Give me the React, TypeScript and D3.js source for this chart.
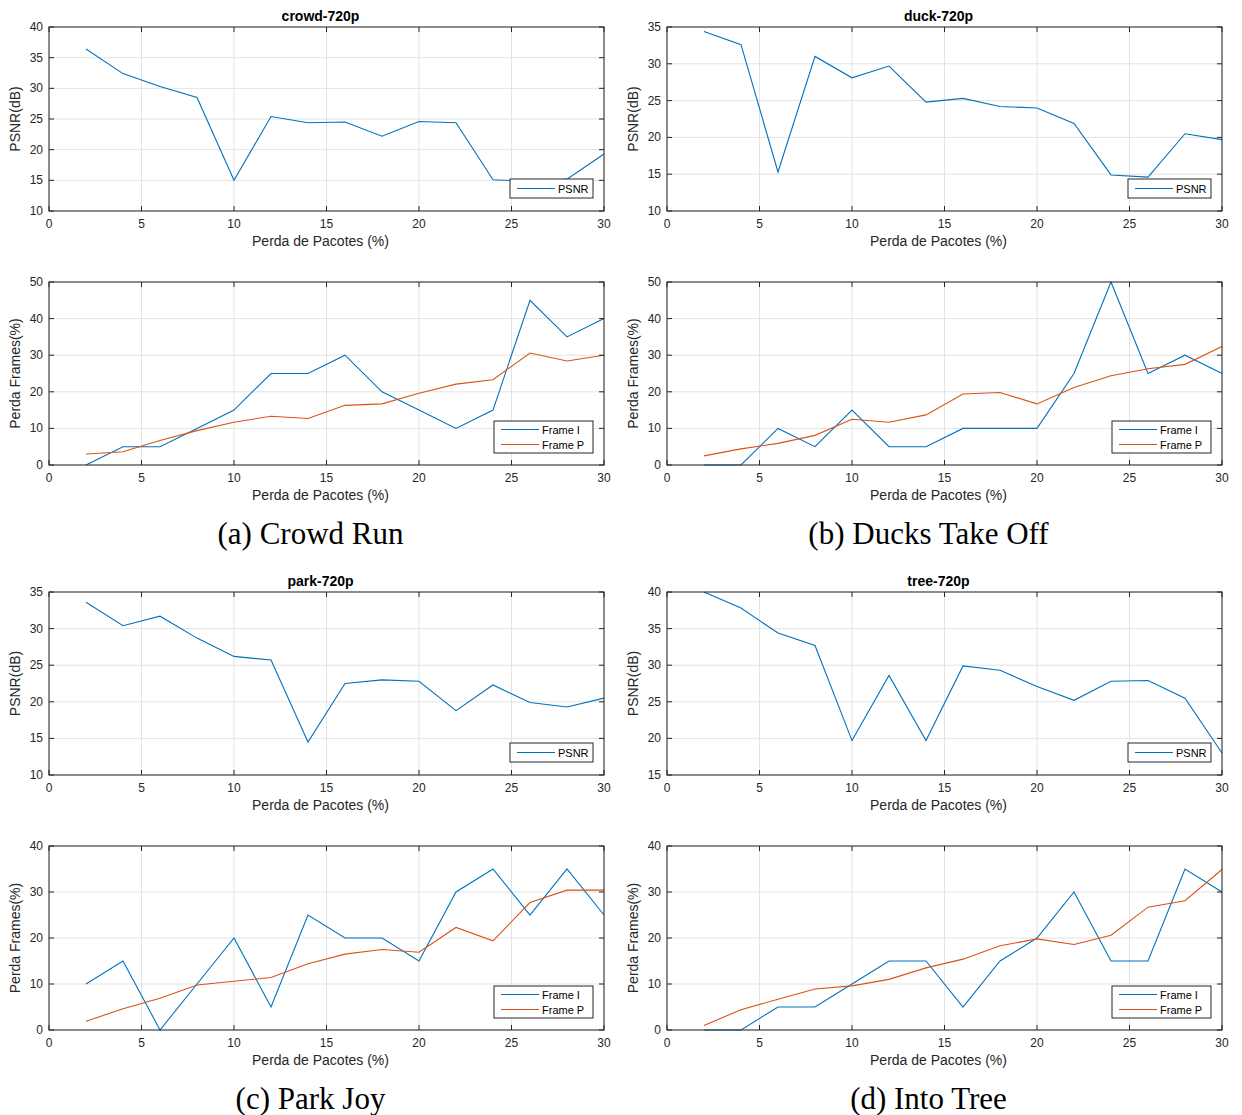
import React from "react";
import * as d3 from "d3";

// x axis: packet loss (%)
const lossPct = [2, 4, 6, 8, 10, 12, 14, 16, 18, 20, 22, 24, 26, 28, 30];
const xTicks = [0, 5, 10, 15, 20, 25, 30];

// PSNR (dB) per sequence
const crowdPsnr = [36.4, 32.4, 30.3, 28.5, 15.0, 25.4, 24.4, 24.5, 22.2, 24.6, 24.4, 15.1, 14.8, 15.2, 19.3];
const duckPsnr = [34.4, 32.6, 15.3, 31.0, 28.1, 29.7, 24.8, 25.3, 24.2, 24.0, 21.9, 14.9, 14.6, 20.5, 19.7];
const parkPsnr = [33.6, 30.4, 31.7, 28.7, 26.2, 25.7, 14.5, 22.5, 23.0, 22.8, 18.8, 22.3, 19.9, 19.3, 20.5];
const treePsnr = [40.0, 37.8, 34.4, 32.7, 19.7, 28.6, 19.7, 29.9, 29.3, 27.1, 25.2, 27.8, 27.9, 25.5, 18.0];

// frame loss (%) — I frames and P frames
const crowdFrameI = [0, 5, 5, 10, 15, 25, 25, 30, 20, 15, 10, 15, 45, 35, 40];
const crowdFrameP = [3.0, 3.6, 6.7, 9.4, 11.7, 13.3, 12.7, 16.3, 16.7, 19.6, 22.1, 23.3, 30.6, 28.4, 30.0];
const duckFrameI = [0, 0, 10, 5, 15, 5, 5, 10, 10, 10, 25, 50, 25, 30, 25];
const duckFrameP = [2.5, 4.4, 5.9, 8.1, 12.5, 11.7, 13.7, 19.4, 19.8, 16.7, 21.2, 24.4, 26.3, 27.5, 32.4];
const parkFrameI = [10, 15, 0, 10, 20, 5, 25, 20, 20, 15, 30, 35, 25, 35, 25];
const parkFrameP = [1.9, 4.6, 6.9, 9.8, 10.6, 11.4, 14.4, 16.5, 17.5, 16.9, 22.3, 19.4, 27.7, 30.4, 30.4];
const treeFrameI = [0, 0, 5, 5, 10, 15, 15, 5, 15, 20, 30, 15, 15, 35, 30];
const treeFrameP = [1.0, 4.4, 6.7, 8.9, 9.6, 11.0, 13.5, 15.4, 18.3, 19.8, 18.6, 20.6, 26.7, 28.1, 34.9];

const titles = ["crowd-720p", "duck-720p", "park-720p", "tree-720p"];
const captions = ["(a) Crowd Run", "(b) Ducks Take Off", "(c) Park Joy", "(d) Into Tree"];
const psnrDomains = [[10, 40], [10, 35], [10, 35], [15, 40]];
const frameDomains = [[0, 50], [0, 50], [0, 40], [0, 40]];

const BLUE = "#0072BD";
const ORANGE = "#D95319";
const AXIS = "#262626";
const FONT = "'Liberation Sans', Arial, sans-serif";

const cols = [{ left: 49, right: 604 }, { left: 667, right: 1222 }];
const rows = [{ top: 27, bottom: 211 }, { top: 282, bottom: 465 }, { top: 592, bottom: 775 }, { top: 846, bottom: 1030 }];

type Series = { name: string; values: number[]; color: string };

const Plot = ({ left, right, top, bottom, domain, series, title, ylabel }: any) => {
  const x = d3.scaleLinear().domain([0, 30]).range([left, right]);
  const y = d3.scaleLinear().domain(domain).range([bottom, top]);
  const yTicks = d3.range(domain[0], domain[1] + 0.01, domain[1] - domain[0] > 30 ? 10 : 5);
  const line = d3.line<number>().x((_, i) => x(lossPct[i])).y(d => y(d));
  const tl = 5;
  const cx = (left + right) / 2 - 6;
  const two = series.length > 1;
  const legW = two ? 99 : 83;
  const legH = two ? 32 : 19;
  const legX = right - 11 - legW;
  const legY = bottom - (two ? 12 : 13) - legH;
  return (
    <g fontFamily={FONT}>
      <rect x={left} y={top} width={right - left} height={bottom - top} fill="#fff" />
      {xTicks.map(t => (
        <line key={"gx" + t} x1={x(t)} x2={x(t)} y1={top} y2={bottom} stroke="#e3e3e3" strokeWidth={1} />
      ))}
      {yTicks.map(t => (
        <line key={"gy" + t} x1={left} x2={right} y1={y(t)} y2={y(t)} stroke="#e3e3e3" strokeWidth={1} />
      ))}
      {series.map((s: Series) => (
        <path key={s.name} d={line(s.values) || ""} fill="none" stroke={s.color} strokeWidth={1.1} />
      ))}
      <rect x={left} y={top} width={right - left} height={bottom - top} fill="none" stroke={AXIS} strokeWidth={1} />
      {xTicks.map(t => (
        <g key={"tx" + t}>
          <line x1={x(t)} x2={x(t)} y1={bottom} y2={bottom - tl} stroke={AXIS} />
          <line x1={x(t)} x2={x(t)} y1={top} y2={top + tl} stroke={AXIS} />
          <text x={x(t)} y={bottom + 17} textAnchor="middle" fontSize={12} fill={AXIS}>{t}</text>
        </g>
      ))}
      {yTicks.map(t => (
        <g key={"ty" + t}>
          <line x1={left} x2={left + tl} y1={y(t)} y2={y(t)} stroke={AXIS} />
          <line x1={right} x2={right - tl} y1={y(t)} y2={y(t)} stroke={AXIS} />
          <text x={left - 6} y={y(t) + 4} textAnchor="end" fontSize={12} fill={AXIS}>{t}</text>
        </g>
      ))}
      {title && (
        <text x={cx} y={top - 6} textAnchor="middle" fontSize={14} fontWeight="bold" fill="#000">{title}</text>
      )}
      <text x={cx} y={bottom + 35} textAnchor="middle" fontSize={14} fill={AXIS}>Perda de Pacotes (%)</text>
      <text transform={`translate(${left - 29},${(top + bottom) / 2}) rotate(-90)`} textAnchor="middle" fontSize={14} fill={AXIS}>{ylabel}</text>
      <rect x={legX} y={legY} width={legW} height={legH} fill="#fff" stroke={AXIS} strokeWidth={1} />
      {series.map((s: Series, i: number) => {
        const ly = legY + (two ? 8.5 : 9.5) + i * 15;
        return (
          <g key={"lg" + s.name}>
            <line x1={legX + 7} x2={legX + (two ? 45 : 45)} y1={ly} y2={ly} stroke={s.color} strokeWidth={1.1} />
            <text x={legX + (two ? 48 : 48)} y={ly + 4} fontSize={11} fill="#000">{s.name}</text>
          </g>
        );
      })}
    </g>
  );
};

export default function App() {
  const psnr = [crowdPsnr, duckPsnr, parkPsnr, treePsnr];
  const frameI = [crowdFrameI, duckFrameI, parkFrameI, treeFrameI];
  const frameP = [crowdFrameP, duckFrameP, parkFrameP, treeFrameP];
  return (
    <svg width={1242} height={1115} style={{ position: "absolute", left: 0, top: 0, background: "#fff" }}>
      <rect width={1242} height={1115} fill="#fff" />
      {titles.map((title, k) => {
        const col = cols[k % 2];
        const r0 = rows[Math.floor(k / 2) * 2];
        const r1 = rows[Math.floor(k / 2) * 2 + 1];
        return (
          <g key={title}>
            <Plot left={col.left} right={col.right} top={r0.top} bottom={r0.bottom} domain={psnrDomains[k]}
              series={[{ name: "PSNR", values: psnr[k], color: BLUE }]} title={title} ylabel="PSNR(dB)" />
            <Plot left={col.left} right={col.right} top={r1.top} bottom={r1.bottom} domain={frameDomains[k]}
              series={[{ name: "Frame I", values: frameI[k], color: BLUE }, { name: "Frame P", values: frameP[k], color: ORANGE }]}
              ylabel="Perda Frames(%)" />
            <text x={(col.left + col.right) / 2 - 16} y={r1.bottom + 79} textAnchor="middle" fontSize={31}
              fontFamily="'Liberation Serif', 'Times New Roman', serif" fill="#000">{captions[k]}</text>
          </g>
        );
      })}
    </svg>
  );
}
